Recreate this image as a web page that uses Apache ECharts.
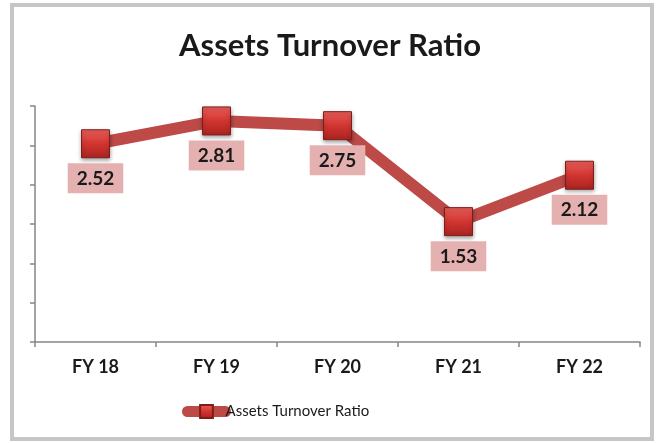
<!DOCTYPE html>
<html>
<head>
<meta charset="utf-8">
<script src="https://cdn.jsdelivr.net/npm/echarts@6/dist/echarts.min.js"></script>
<style>
  html, body { margin: 0; padding: 0; background: #fff; }
  #frame {
    position: absolute; left: 10px; top: 3px; width: 636px; height: 430px;
    border: 4px solid #c6c6c6; background: #fff;
  }
  #chart { position: absolute; left: 0; top: 0; width: 660px; height: 443px; }
</style>
</head>
<body>
<div id="frame"></div>
<div id="chart"></div>
<script>
// 数据
const categories = ["FY 18", "FY 19", "FY 20", "FY 21", "FY 22"];
const ratioValues = [2.52, 2.81, 2.75, 1.53, 2.12];
const seriesName = "Assets Turnover Ratio";

let myChart = echarts.init(document.getElementById("chart"));

let option = {
  title: {
    text: "Assets Turnover Ratio",
    left: "center",
    top: 25,
    textStyle: {
      fontFamily: "Lato",
      fontSize: 31,
      fontWeight: "bold",
      color: "#1a1a1a",
    },
  },
  legend: {
    bottom: 19,
    left: 177,
    itemWidth: 38,
    itemHeight: 16,
    itemGap: 0,
    data: [seriesName],
    lineStyle: { width: 11, cap: "round" },
    textStyle: {
      fontFamily: "Lato",
      fontSize: 15,
      color: "#1a1a1a",
      padding: [0, 0, 0, -5],
    },
  },
  grid: {
    top: 106,
    left: 35,
    right: 20,
    bottom: 101,
  },
  xAxis: {
    type: "category",
    data: categories,
    boundaryGap: true,
    axisLine: { lineStyle: { color: "#868686", width: 1.5 } },
    axisTick: { show: true, length: 5, lineStyle: { color: "#868686", width: 1.5 } },
    axisLabel: {
      margin: 16,
      fontFamily: "Lato",
      fontSize: 18,
      fontWeight: "bold",
      color: "#1a1a1a",
    },
  },
  yAxis: {
    type: "value",
    min: 0,
    max: 3,
    interval: 0.5,
    axisLine: { show: true, lineStyle: { color: "#868686", width: 1.5 } },
    axisTick: { show: true, length: 5, lineStyle: { color: "#868686", width: 1.5 } },
    axisLabel: { show: false },
    splitLine: { show: false },
  },
  series: [
    {
      name: seriesName,
      type: "line",
      data: ratioValues,
      symbol: "rect",
      symbolSize: 28,
      lineStyle: { color: "#bd4a47", width: 12 },
      itemStyle: {
        color: {
          type: "linear",
          x: 0, y: 0, x2: 0, y2: 1,
          colorStops: [
            { offset: 0, color: "#ea605c" },
            { offset: 0.5, color: "#d23530" },
            { offset: 1, color: "#a82320" },
          ],
        },
        borderColor: "#7d1d1b",
        borderWidth: 1,
        shadowColor: "rgba(0,0,0,0.35)",
        shadowBlur: 4,
        shadowOffsetY: 2,
      },
      label: {
        show: true,
        position: "bottom",
        distance: 5,
        fontFamily: "Lato",
        fontSize: 19,
        fontWeight: "bold",
        color: "#1a1a1a",
        backgroundColor: "#e5b1b0",
        padding: [6, 9, 5, 9],
        formatter: function (p) {
          return p.value.toFixed(2);
        },
      },
    },
  ],
};

myChart.setOption(option);
</script>
</body>
</html>
